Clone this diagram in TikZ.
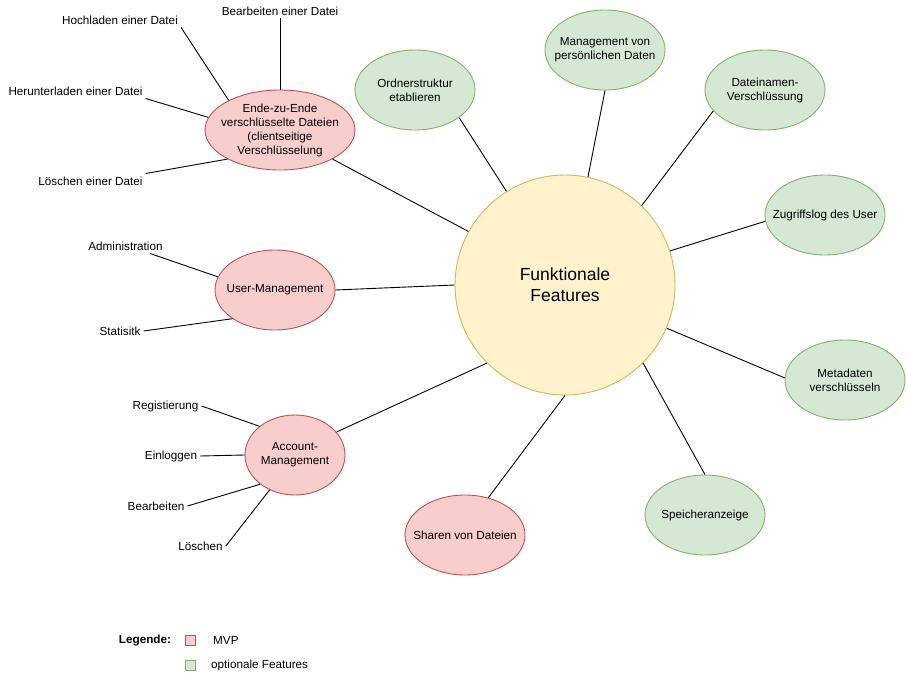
\documentclass[tikz,border=0pt]{standalone}
\usepackage{fontspec}
\setmainfont{Liberation Sans}
\usetikzlibrary{shapes.geometric}

\definecolor{mvpfill}{HTML}{F8CECC}
\definecolor{mvpline}{HTML}{B85450}
\definecolor{optfill}{HTML}{D5E8D4}
\definecolor{optline}{HTML}{82B366}
\definecolor{corefill}{HTML}{FFF2CC}
\definecolor{coreline}{HTML}{D6B656}

\tikzset{
  mvp/.style={ellipse, draw=mvpline, fill=mvpfill, line width=0.9pt,
    minimum width=120pt, minimum height=80pt, inner xsep=-15pt, inner ysep=-10pt, align=center},
  opt/.style={ellipse, draw=optline, fill=optfill, line width=0.9pt,
    minimum width=120pt, minimum height=80pt, inner xsep=-15pt, inner ysep=-10pt, align=center},
  leaf/.style={inner sep=3pt, align=center},
  link/.style={line width=0.9pt},
  keybox/.style={draw, line width=0.9pt, minimum size=10pt, inner sep=0pt}
}

\begin{document}
\begin{tikzpicture}[x=1pt,y=-1pt,font=\fontsize{11.7}{14}\selectfont]
        \useasboundingbox (0,0) rectangle (907,677);

        % Center
        \node [circle, draw=coreline, fill=corefill, line width=0.9pt,
          minimum size=220pt, inner sep=0pt, align=center,
          font=\fontsize{17.5}{21}\selectfont] (core) at (565,285) {Funktionale\\ Features};%

        % MVP features
        \node [mvp, minimum width=150pt] (e2e) at (280,130)
          {Ende-zu-Ende\\verschlüsselte Dateien\\(clientseitige\\Verschlüsselung};%
        \node [mvp] (user) at (275,290) {User-Management};%
        \node [mvp, minimum width=100pt] (account) at (295,455) {Account-\\Management};%
        \node [mvp] (share) at (465,535) {Sharen von Dateien};%

        % Optional features
        \node [opt] (folder) at (415,90) {Ordnerstruktur\\etablieren};%
        \node [opt] (personal) at (605,50) {Management von\\persönlichen Daten};%
        \node [opt] (names) at (765,90) {Dateinamen-\\Verschlüssung};%
        \node [opt] (log) at (825,215) {Zugriffslog des User};%
        \node [opt] (meta) at (845,380) {Metadaten\\verschlüsseln};%
        \node [opt] (storage) at (705,515) {Speicheranzeige};%

        % Spokes from center
        \draw [link] (core.151) -- (e2e.-29);%
        \draw [link] (core.180) -- (user.0);%
        \draw [link] (core.-135) -- (account.29);%
        \draw [link] (core.-90) -- (share.58);%
        \draw [link] (core.122) -- (folder.-32);%
        \draw [link] (core.78) -- (personal.-90);%
        \draw [link] (core.46) -- (names.-158);%
        \draw [link] (core.18) -- (log.186);%
        \draw [link] (core.-23) -- (meta.178);%
        \draw [link] (core.-45) -- (storage.90);%

        % Leaves of Ende-zu-Ende
        \node [leaf] (editfile) at (280,11) {Bearbeiten einer Datei};%
        \node [leaf] (upload) at (120,20) {Hochladen einer Datei};%
        \node [leaf] (download) at (75.5,91) {Herunterladen einer Datei};%
        \node [leaf] (deletefile) at (90.5,181) {Löschen einer Datei};%
        \draw [link] (editfile.south) -- (e2e.90);%
        \draw [link] (upload.south east) -- (e2e.150);%
        \draw [link] (download.south east) -- (e2e.170);%
        \draw [link] (deletefile.north east) -- (e2e.209);%

        % Leaves of User-Management
        \node [leaf] (admin) at (125.5,246) {Administration};%
        \node [leaf] (stats) at (120,331) {Statisitk};%
        \draw [link] (admin.-17) -- (user.167);%
        \draw [link] (stats.east) -- (user.214);%

        % Leaves of Account-Management
        \node [leaf] (register) at (165.5,406) {Registierung};%
        \node [leaf] (login) at (171,456) {Einloggen};%
        \node [leaf] (edit) at (156,506) {Bearbeiten};%
        \node [leaf] (delete) at (200.5,546) {Löschen};%
        \draw [link] (register.east) -- (account.141);%
        \draw [link] (login.east) -- (account.180);%
        \draw [link] (edit.east) -- (account.220);%
        \draw [link] (delete.east) -- (account.234);%

        % Legend
        \node [font=\fontsize{11.7}{14}\selectfont\bfseries] (legend) at (145,640) {Legende:};%
        \node [keybox, draw=mvpline, fill=mvpfill] (keymvp) at (190,640) {};%
        \node [keybox, draw=optline, fill=optfill] (keyopt) at (190,665) {};%
        \node [anchor=west, inner sep=0pt] (txtmvp) at (213,640) {MVP};%
        \node [anchor=west, inner sep=0pt] (txtopt) at (211,665) {optionale Features};%
\end{tikzpicture}
\end{document}
